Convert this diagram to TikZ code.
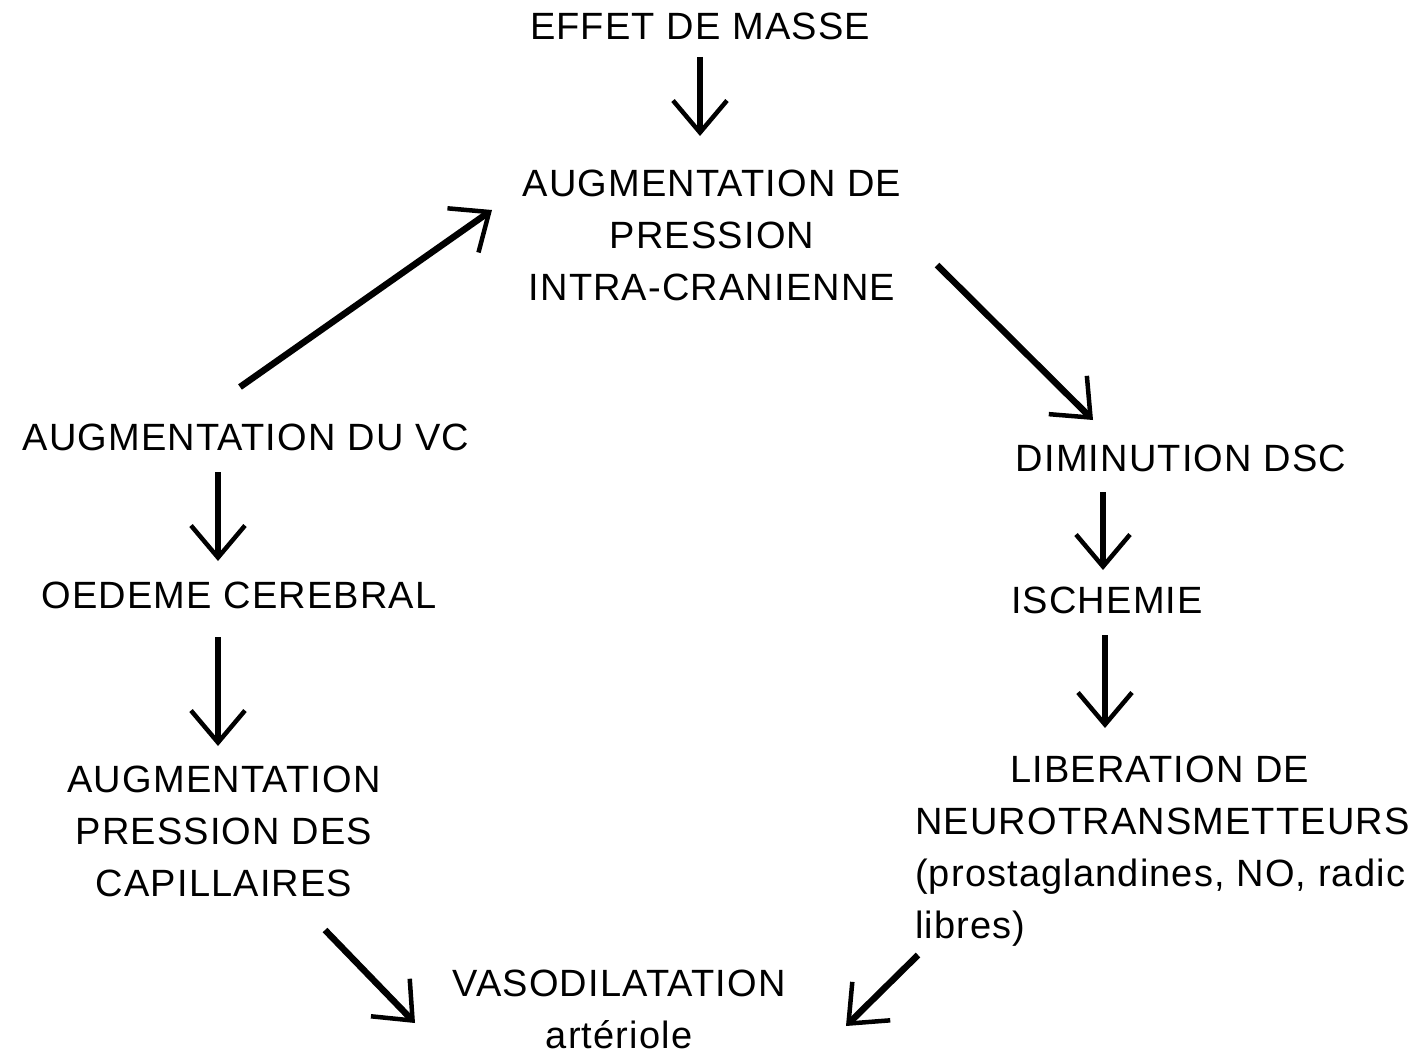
\documentclass[tikz,border=0pt]{standalone}
\usepackage{fontspec}
\setmainfont{Liberation Sans}[LetterSpace=3]
\usetikzlibrary{arrows.meta}
\begin{document}
\begin{tikzpicture}[x=1pt,y=-1pt,
  lbl/.style={inner sep=0pt,font=\fontsize{38}{52}\selectfont,text=black},
  flow/.style={line width=6.5pt,-{Straight Barb[length=32pt,width=54pt,line width=4.5pt]}}]
\useasboundingbox[fill=white] (0,0) rectangle (1412,1054);
% texts
\node[lbl] (m) at (700,26) {EFFET DE MASSE};
\node[lbl,align=center] (p) at (712,235) {AUGMENTATION DE\\PRESSION\\INTRA-CRANIENNE};
\node[lbl] (vc) at (246,437) {AUGMENTATION DU VC};
\node[lbl] (oe) at (239,595) {OEDEME CEREBRAL};
\node[lbl,align=center] (cap) at (224,831) {AUGMENTATION\\PRESSION DES\\CAPILLAIRES};
\node[lbl,align=center,anchor=north] (vaso) at (619,970) {VASODILATATION\\artériole};
\node[lbl] (dsc) at (1181,458) {DIMINUTION DSC};
\node[lbl] (isch) at (1107,600) {ISCHEMIE};
\node[lbl,align=left,anchor=north west] (lib) at (915,756) {\hspace*{95pt}LIBERATION DE\\NEUROTRANSMETTEURS\\(prostaglandines, NO, radic\\libres)};
% connector ends
\coordinate (a1s) at (700,57);  \coordinate (a1e) at (700,136);
\coordinate (a2s) at (240,387); \coordinate (a2e) at (492,210);
\coordinate (a3s) at (937,265); \coordinate (a3e) at (1093,420);
\coordinate (a4s) at (218,472); \coordinate (a4e) at (218,561);
\coordinate (a5s) at (218,637); \coordinate (a5e) at (218,746);
\coordinate (a6s) at (325,930); \coordinate (a6e) at (415,1023);
\coordinate (a7s) at (918,955); \coordinate (a7e) at (846,1026);
\coordinate (a8s) at (1103,492); \coordinate (a8e) at (1103,570);
\coordinate (a9s) at (1105,635); \coordinate (a9e) at (1105,728);
\draw[flow] (a1s) -- (a1e);
\draw[flow] (a2s) -- (a2e);
\draw[flow] (a3s) -- (a3e);
\draw[flow] (a4s) -- (a4e);
\draw[flow] (a5s) -- (a5e);
\draw[flow] (a6s) -- (a6e);
\draw[flow] (a7s) -- (a7e);
\draw[flow] (a8s) -- (a8e);
\draw[flow] (a9s) -- (a9e);
\end{tikzpicture}
\end{document}
